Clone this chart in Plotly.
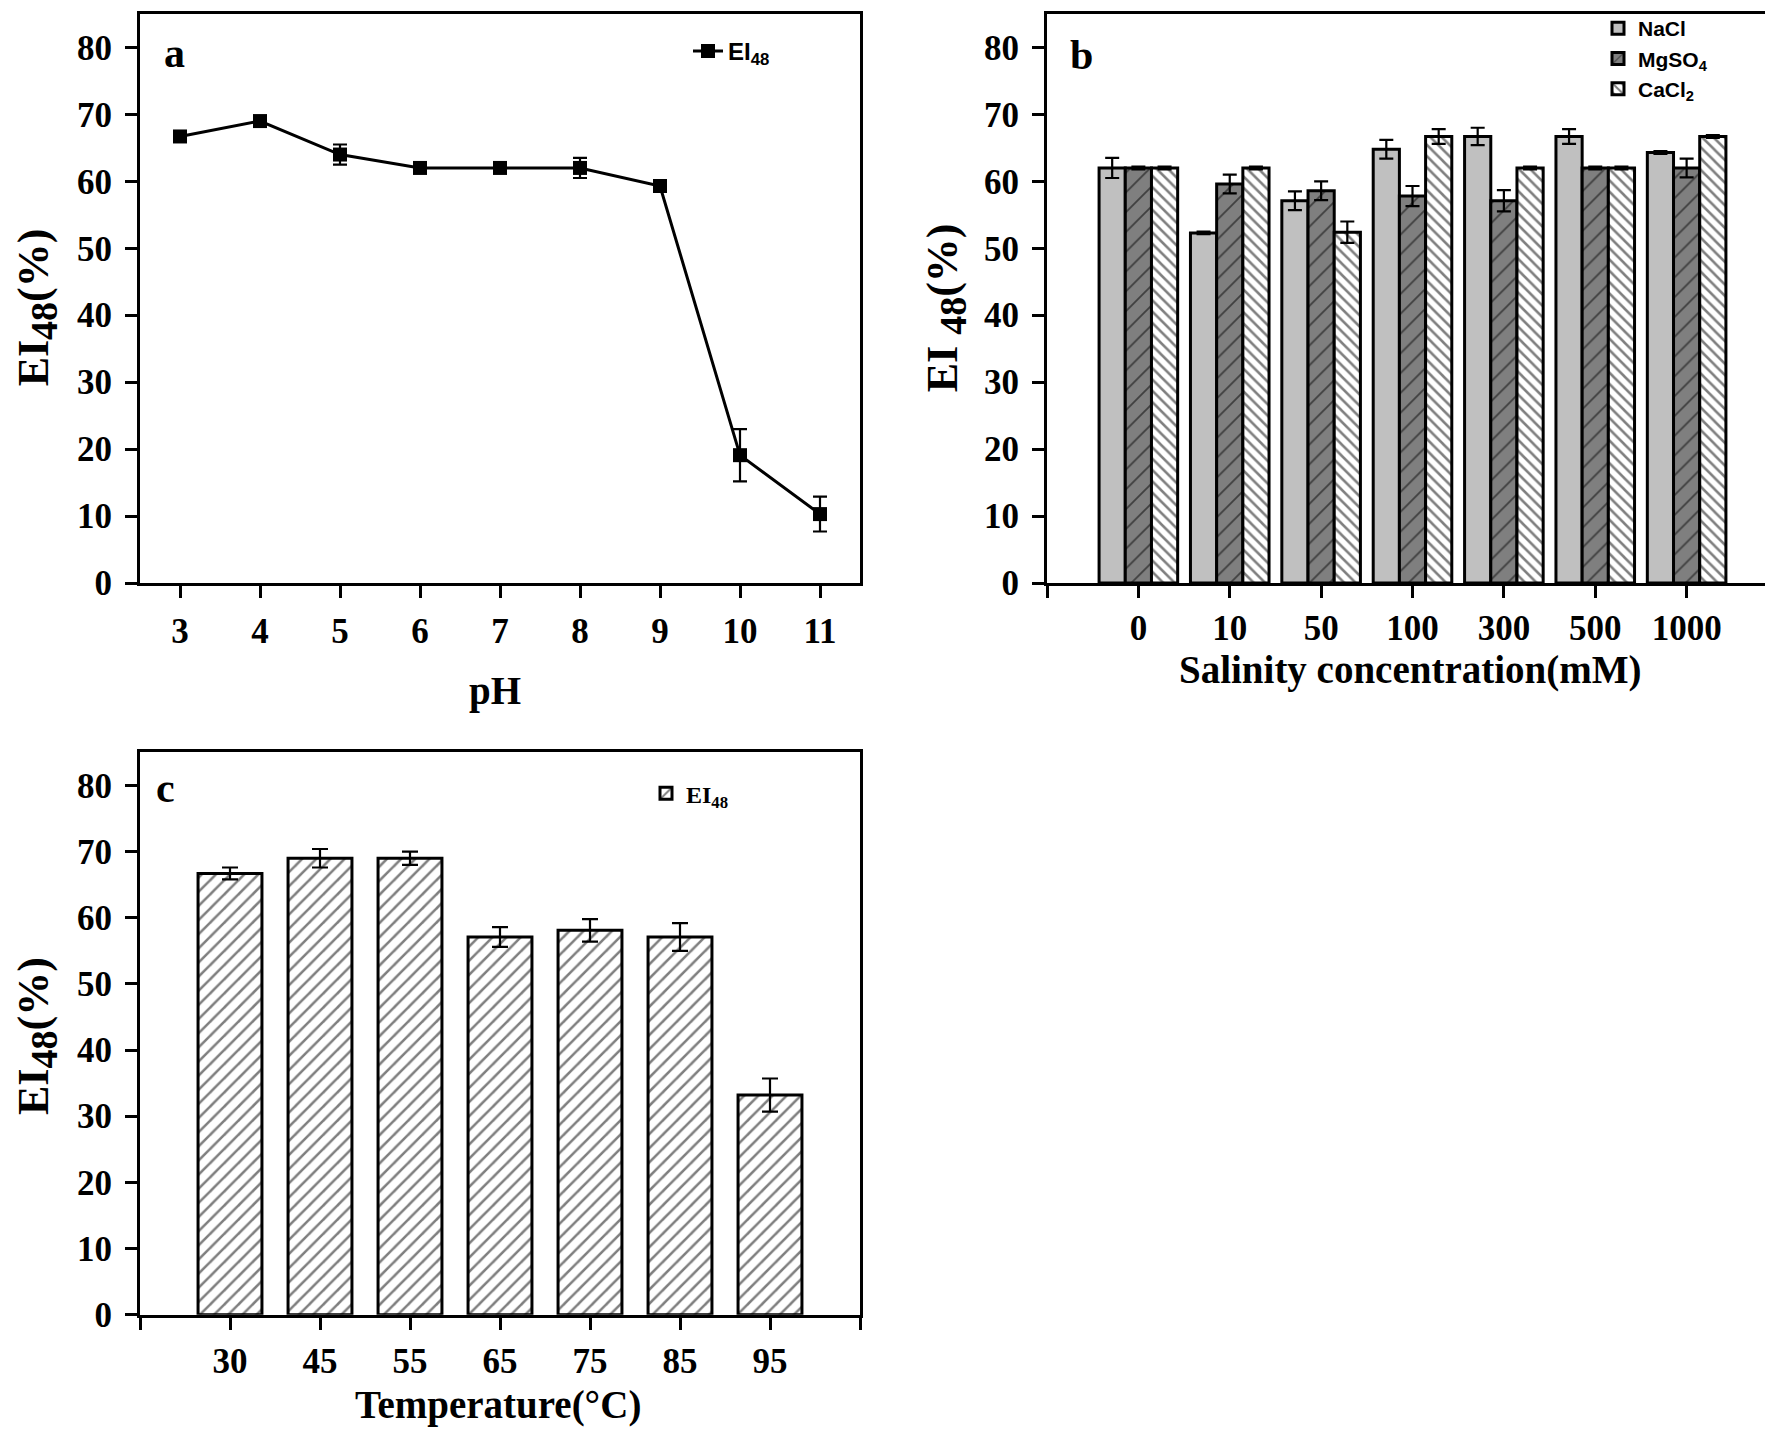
import plotly.graph_objects as go

# ---------------- data ----------------
ph_values = [3, 4, 5, 6, 7, 8, 9, 10, 11]
ph_ei48 = [66.7, 69.0, 64.0, 62.0, 62.0, 62.0, 59.3, 19.1, 10.3]
ph_err = [0.3, 0.3, 1.5, 0.2, 0.2, 1.5, 0.5, 3.9, 2.6]

salinity_labels = ["0", "10", "50", "100", "300", "500", "1000"]
nacl = [62.0, 52.3, 57.1, 64.8, 66.7, 66.7, 64.3]
nacl_err = [1.5, 0.2, 1.4, 1.4, 1.3, 1.1, 0.2]
mgso4 = [62.0, 59.6, 58.6, 57.8, 57.1, 62.0, 62.0]
mgso4_err = [0.2, 1.4, 1.4, 1.5, 1.6, 0.2, 1.4]
cacl2 = [62.0, 62.0, 52.4, 66.7, 62.0, 62.0, 66.7]
cacl2_err = [0.2, 0.2, 1.6, 1.1, 0.2, 0.2, 0.2]

temp_labels = ["30", "45", "55", "65", "75", "85", "95"]
temp_ei48 = [66.7, 69.0, 69.0, 57.1, 58.1, 57.1, 33.2]
temp_err = [0.9, 1.4, 1.0, 1.5, 1.7, 2.1, 2.5]

y_ticks = [0, 10, 20, 30, 40, 50, 60, 70, 80]

# ---------------- layout helpers ----------------
W, H = 1773, 1432
SERIF = "Liberation Serif"
SANS = "Liberation Sans"


def px(x):
    return x / W


def py(y):
    return 1 - y / H


tick_font = dict(family=SERIF, size=35, color="black", weight="bold")

fig = go.Figure()

# Panel a : pH
fig.add_trace(go.Scatter(
    x=ph_values, y=ph_ei48, mode="lines+markers",
    name="EI<sub>48</sub>",
    line=dict(color="black", width=3),
    marker=dict(symbol="square", size=14, color="black"),
    error_y=dict(type="data", array=ph_err, color="black", thickness=2.2, width=7),
    xaxis="x", yaxis="y", legend="legend",
))

# Panel b : salinity
idx = list(range(len(salinity_labels)))
fig.add_trace(go.Bar(
    x=idx, y=nacl, name="NaCl",
    marker=dict(color="#c0c0c0", line=dict(color="black", width=3)),
    error_y=dict(type="data", array=nacl_err, color="black", thickness=2.2, width=7),
    xaxis="x2", yaxis="y2", legend="legend2",
))
fig.add_trace(go.Bar(
    x=idx, y=mgso4, name="MgSO<sub>4</sub>",
    marker=dict(color="#7f7f7f", line=dict(color="black", width=3),
                pattern=dict(shape="/", size=14, solidity=0.13,
                             fgcolor="black", bgcolor="#7f7f7f", fillmode="overlay")),
    error_y=dict(type="data", array=mgso4_err, color="black", thickness=2.2, width=7),
    xaxis="x2", yaxis="y2", legend="legend2",
))
fig.add_trace(go.Bar(
    x=idx, y=cacl2, name="CaCl<sub>2</sub>",
    marker=dict(color="white", line=dict(color="black", width=3),
                pattern=dict(shape="\\", size=8, solidity=0.32,
                             fgcolor="black", bgcolor="white", fillmode="overlay")),
    error_y=dict(type="data", array=cacl2_err, color="black", thickness=2.2, width=7),
    xaxis="x2", yaxis="y2", legend="legend2",
))

# Panel c : temperature
tidx = list(range(len(temp_labels)))
fig.add_trace(go.Bar(
    x=tidx, y=temp_ei48, name="EI<sub>48</sub>", width=0.71,
    marker=dict(color="white", line=dict(color="black", width=3),
                pattern=dict(shape="/", size=10, solidity=0.25,
                             fgcolor="black", bgcolor="white", fillmode="overlay")),
    error_y=dict(type="data", array=temp_err, color="black", thickness=2.2, width=8),
    xaxis="x3", yaxis="y3", legend="legend3",
))

axis_common = dict(
    showline=True, linecolor="black", linewidth=3, mirror=True,
    ticks="outside", ticklen=12, tickwidth=3, tickcolor="black",
    showgrid=False, zeroline=False, tickfont=tick_font,
)

dom_a_x = [px(132), px(852)]
dom_b_x = [px(1039), px(1770)]
dom_top_y = [py(582), py(4)]
dom_bot_y = [py(1325), py(754)]

cat_ticks = list(range(-1, 8))

fig.update_layout(
    width=W, height=H,
    margin=dict(l=0, r=0, t=0, b=0),
    paper_bgcolor="white", plot_bgcolor="white",
    barmode="group", bargap=0.14, bargroupgap=0,
    xaxis=dict(domain=dom_a_x, anchor="y", range=[2.5, 11.5],
               tickvals=ph_values, ticklabelstandoff=3, **axis_common),
    yaxis=dict(domain=dom_top_y, anchor="x", range=[0, 85],
               tickvals=y_ticks, ticklabelstandoff=6, **axis_common),
    xaxis2=dict(domain=dom_b_x, anchor="y2", range=[-1, 7],
                tickvals=cat_ticks, ticktext=[""] + salinity_labels + [""],
                ticklabelstandoff=0, **axis_common),
    yaxis2=dict(domain=dom_top_y, anchor="x2", range=[0, 85],
                tickvals=y_ticks, ticklabelstandoff=6, **axis_common),
    xaxis3=dict(domain=dom_a_x, anchor="y3", range=[-1, 7],
                tickvals=cat_ticks, ticktext=[""] + temp_labels + [""],
                ticklabelstandoff=1, **axis_common),
    yaxis3=dict(domain=dom_bot_y, anchor="x3", range=[0, 85],
                tickvals=y_ticks, ticklabelstandoff=6, **axis_common),
    legend=dict(x=px(680), y=py(42), xanchor="left", yanchor="middle",
                bgcolor="rgba(0,0,0,0)", borderwidth=0,
                font=dict(family=SANS, size=24, color="black", weight="bold")),
    legend2=dict(x=px(1590), y=py(-2), xanchor="left", yanchor="top",
                 bgcolor="rgba(0,0,0,0)", borderwidth=0,
                 font=dict(family=SANS, size=21, color="black", weight="bold")),
    legend3=dict(x=px(638), y=py(796), xanchor="left", yanchor="middle",
                 bgcolor="rgba(0,0,0,0)", borderwidth=0,
                 font=dict(family=SERIF, size=24, color="black", weight="bold")),
    showlegend=True,
)

title_font = dict(family=SERIF, size=39, color="black", weight="bold")
ytitle_font = dict(family=SERIF, size=44, color="black", weight="bold")
letter_font = dict(family=SERIF, size=42, color="black", weight="bold")

sub48 = '<sub><span style="font-size:38px">48</span></sub>'

annotations = [
    dict(text="pH", x=px(487), y=py(692), font=title_font),
    dict(text="Salinity concentration(mM)", x=px(1402), y=py(670), font=title_font),
    dict(text="Temperature(°C)", x=px(490), y=py(1417), font=title_font),
    dict(text="EI" + sub48 + "(%)", x=px(29), y=py(302), font=ytitle_font, textangle=-90),
    dict(text="EI " + sub48 + "(%)", x=px(938), y=py(303), font=ytitle_font, textangle=-90),
    dict(text="EI" + sub48 + "(%)", x=px(29), y=py(1042), font=ytitle_font, textangle=-90),
    dict(text="a", x=px(166), y=py(44), font=letter_font),
    dict(text="b", x=px(1073), y=py(46), font=letter_font),
    dict(text="c", x=px(157), y=py(790), font=letter_font),
]
for a in annotations:
    a.update(xref="paper", yref="paper", xanchor="center", yanchor="middle",
             showarrow=False)
fig.update_layout(annotations=annotations)

fig.write_html("out.html")
